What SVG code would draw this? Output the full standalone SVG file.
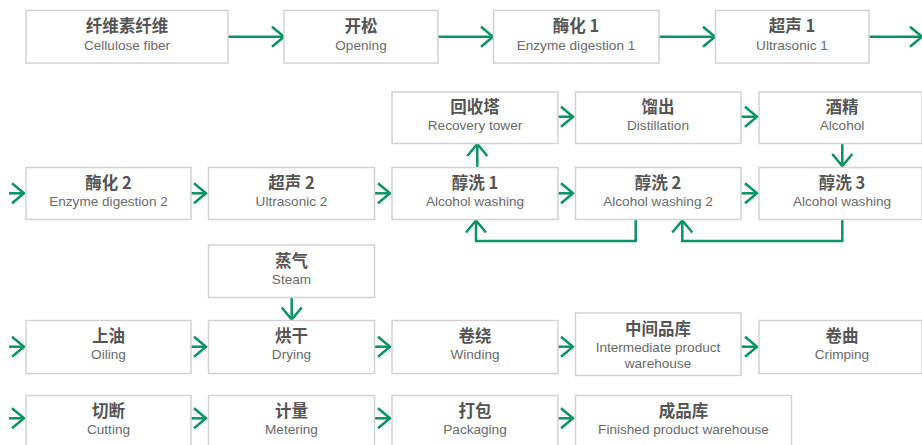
<svg xmlns="http://www.w3.org/2000/svg" width="922" height="445" viewBox="0 0 922 445">
<style>
.box{fill:#fff;stroke:#d2d2d2;stroke-width:1.5}
.zh{font-family:"Noto Sans CJK SC","Liberation Sans",sans-serif;font-size:16.5px;font-weight:700;fill:#555;text-anchor:middle}
.en{font-family:"Liberation Sans",sans-serif;font-size:13.6px;fill:#6a6a6a;text-anchor:middle}
.ln{fill:none;stroke:#0a9463;stroke-width:2.5}
</style>
<defs>
<marker id="ah" markerUnits="userSpaceOnUse" markerWidth="16" markerHeight="24" viewBox="0 0 16 24" refX="13" refY="12" orient="auto" overflow="visible">
<path d="M1,2 L13,12 L1,22" fill="none" stroke="#0a9463" stroke-width="2.5"/>
</marker>
</defs>
<rect width="922" height="445" fill="#fff"/>
<g id="connectors">
<path class="ln" d="M228,36.7 H284" marker-end="url(#ah)"/>
<path class="ln" d="M438,36.7 H493" marker-end="url(#ah)"/>
<path class="ln" d="M659,36.7 H715" marker-end="url(#ah)"/>
<path class="ln" d="M869,36.7 H922" marker-end="url(#ah)"/>
<path class="ln" d="M9,193.3 H24" marker-end="url(#ah)"/>
<path class="ln" d="M191,193.3 H206" marker-end="url(#ah)"/>
<path class="ln" d="M374,193.3 H390" marker-end="url(#ah)"/>
<path class="ln" d="M558,193.3 H573" marker-end="url(#ah)"/>
<path class="ln" d="M741,193.3 H757" marker-end="url(#ah)"/>
<path class="ln" d="M558,116.7 H573" marker-end="url(#ah)"/>
<path class="ln" d="M741,116.7 H757" marker-end="url(#ah)"/>
<path class="ln" d="M842.3,143 V166" marker-end="url(#ah)"/>
<path class="ln" d="M477.3,167 V144" marker-end="url(#ah)"/>
<path class="ln" d="M635.7,219.5 V241 H476 V220.5" marker-end="url(#ah)"/>
<path class="ln" d="M842.3,219.5 V241 H682.3 V220.5" marker-end="url(#ah)"/>
<path class="ln" d="M291.7,297 V319.5" marker-end="url(#ah)"/>
<path class="ln" d="M9,346.7 H24" marker-end="url(#ah)"/>
<path class="ln" d="M191,346.7 H206" marker-end="url(#ah)"/>
<path class="ln" d="M374,346.7 H390" marker-end="url(#ah)"/>
<path class="ln" d="M558,346.7 H573" marker-end="url(#ah)"/>
<path class="ln" d="M741,346.7 H757" marker-end="url(#ah)"/>
<path class="ln" d="M9,418.3 H24" marker-end="url(#ah)"/>
<path class="ln" d="M191,418.3 H206" marker-end="url(#ah)"/>
<path class="ln" d="M374,418.3 H390" marker-end="url(#ah)"/>
<path class="ln" d="M558,418.3 H573" marker-end="url(#ah)"/>
</g>
<g id="n1"><rect class="box" x="26" y="10.5" width="202" height="52.5"/><text class="zh" x="127" y="32">纤维素纤维</text><text class="en" x="127" y="50">Cellulose fiber</text></g>
<g id="n2"><rect class="box" x="284" y="10.5" width="154" height="52.5"/><text class="zh" x="361" y="32">开松</text><text class="en" x="361" y="50">Opening</text></g>
<g id="n3"><rect class="box" x="493.5" y="10.5" width="165.5" height="52.5"/><text class="zh" x="576" y="32">酶化 1</text><text class="en" x="576" y="50">Enzyme digestion 1</text></g>
<g id="n4"><rect class="box" x="715.5" y="10.5" width="153.5" height="52.5"/><text class="zh" x="792" y="32">超声 1</text><text class="en" x="792" y="50">Ultrasonic 1</text></g>
<g id="n5"><rect class="box" x="26" y="167.5" width="165" height="52"/><text class="zh" x="108.5" y="189">酶化 2</text><text class="en" x="108.5" y="206">Enzyme digestion 2</text></g>
<g id="n6"><rect class="box" x="208.5" y="167.5" width="166" height="52"/><text class="zh" x="291.5" y="189">超声 2</text><text class="en" x="291.5" y="206">Ultrasonic 2</text></g>
<g id="n7"><rect class="box" x="392" y="167.5" width="166" height="52"/><text class="zh" x="475" y="189">醇洗 1</text><text class="en" x="475" y="206">Alcohol washing</text></g>
<g id="n8"><rect class="box" x="575.5" y="167.5" width="165.5" height="52"/><text class="zh" x="658" y="189">醇洗 2</text><text class="en" x="658" y="206">Alcohol washing 2</text></g>
<g id="n9"><rect class="box" x="759" y="167.5" width="163" height="52"/><text class="zh" x="842" y="189">醇洗 3</text><text class="en" x="842" y="206">Alcohol washing</text></g>
<g id="n10"><rect class="box" x="392" y="92" width="166" height="51.5"/><text class="zh" x="475" y="113">回收塔</text><text class="en" x="475" y="130">Recovery tower</text></g>
<g id="n11"><rect class="box" x="575.5" y="92" width="165.5" height="51.5"/><text class="zh" x="658" y="113">馏出</text><text class="en" x="658" y="130">Distillation</text></g>
<g id="n12"><rect class="box" x="759" y="92" width="163" height="51.5"/><text class="zh" x="842" y="113">酒精</text><text class="en" x="842" y="130">Alcohol</text></g>
<g id="n13"><rect class="box" x="208.5" y="245" width="166" height="52.5"/><text class="zh" x="291.5" y="266.5">蒸气</text><text class="en" x="291.5" y="283.5">Steam</text></g>
<g id="n14"><rect class="box" x="26" y="320.5" width="165" height="53"/><text class="zh" x="108.5" y="342">上油</text><text class="en" x="108.5" y="359">Oiling</text></g>
<g id="n15"><rect class="box" x="208.5" y="320.5" width="166" height="53"/><text class="zh" x="291.5" y="342">烘干</text><text class="en" x="291.5" y="359">Drying</text></g>
<g id="n16"><rect class="box" x="392" y="320.5" width="166" height="53"/><text class="zh" x="475" y="342">卷绕</text><text class="en" x="475" y="359">Winding</text></g>
<g id="n17"><rect class="box" x="575.5" y="313" width="165.5" height="62.5"/><text class="zh" x="658" y="334.5">中间品库</text><text class="en" x="658" y="351.5">Intermediate product</text><text class="en" x="658" y="367.5">warehouse</text></g>
<g id="n18"><rect class="box" x="759" y="320.5" width="163" height="53"/><text class="zh" x="842" y="342">卷曲</text><text class="en" x="842" y="359">Crimping</text></g>
<g id="n19"><rect class="box" x="26" y="395.5" width="165" height="53"/><text class="zh" x="108.5" y="417">切断</text><text class="en" x="108.5" y="434">Cutting</text></g>
<g id="n20"><rect class="box" x="208.5" y="395.5" width="166" height="53"/><text class="zh" x="291.5" y="417">计量</text><text class="en" x="291.5" y="434">Metering</text></g>
<g id="n21"><rect class="box" x="392" y="395.5" width="166" height="53"/><text class="zh" x="475" y="417">打包</text><text class="en" x="475" y="434">Packaging</text></g>
<g id="n22"><rect class="box" x="575.5" y="395.5" width="216" height="53"/><text class="zh" x="683.5" y="417">成品库</text><text class="en" x="683.5" y="434">Finished product warehouse</text></g>
</svg>
